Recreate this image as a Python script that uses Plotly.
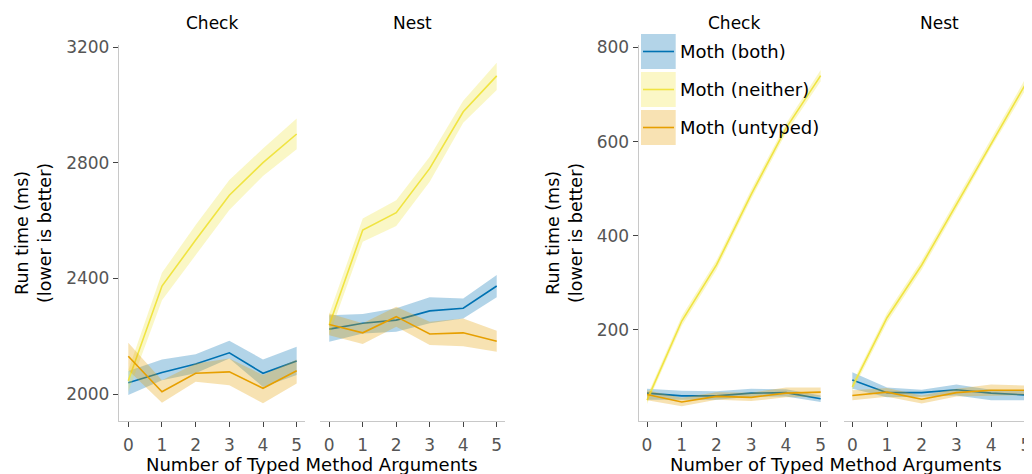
import plotly.graph_objects as go

x_vals = [0, 1, 2, 3, 4, 5]
series_names = ["Moth (both)", "Moth (neither)", "Moth (untyped)"]

# Left chart -- Check panel
left_check_both = [2039, 2075, 2104, 2143, 2072, 2115]
left_check_both_hi = [2080, 2120, 2138, 2185, 2120, 2164]
left_check_both_lo = [1997, 2048, 2072, 2123, 2025, 2066]
left_check_neither = [2046, 2374, 2533, 2688, 2801, 2900]
left_check_neither_hi = [2083, 2420, 2585, 2741, 2850, 2954]
left_check_neither_lo = [2008, 2325, 2481, 2637, 2755, 2847]
left_check_untyped = [2131, 2008, 2072, 2077, 2020, 2081]
left_check_untyped_hi = [2178, 2048, 2106, 2123, 2066, 2120]
left_check_untyped_lo = [2083, 1970, 2043, 2031, 1968, 2037]

# Left chart -- Nest panel
left_nest_both = [2225, 2245, 2256, 2288, 2297, 2374]
left_nest_both_hi = [2273, 2277, 2297, 2335, 2331, 2412]
left_nest_both_lo = [2181, 2210, 2216, 2245, 2262, 2335]
left_nest_neither = [2239, 2568, 2628, 2781, 2977, 3101]
left_nest_neither_hi = [2277, 2608, 2671, 2821, 3015, 3147]
left_nest_neither_lo = [2204, 2527, 2582, 2735, 2939, 3052]
left_nest_untyped = [2241, 2212, 2268, 2208, 2212, 2183]
left_nest_untyped_hi = [2279, 2245, 2302, 2250, 2262, 2219]
left_nest_untyped_lo = [2204, 2173, 2233, 2170, 2166, 2147]

# Right chart -- Check panel
right_check_both = [66, 60, 60, 66, 67, 54]
right_check_both_hi = [75, 71, 70, 75, 74, 61]
right_check_both_lo = [52, 52, 52, 58, 59, 47]
right_check_neither = [51, 219, 338, 488, 628, 740]
right_check_neither_hi = [60, 229, 348, 498, 638, 752]
right_check_neither_lo = [43, 209, 328, 478, 618, 728]
right_check_untyped = [63, 47, 59, 57, 66, 68]
right_check_untyped_hi = [72, 56, 68, 67, 78, 78]
right_check_untyped_lo = [51, 38, 52, 49, 57, 58]

# Right chart -- Nest panel
right_nest_both = [94, 67, 67, 73, 66, 62]
right_nest_both_hi = [110, 78, 73, 84, 73, 72]
right_nest_both_lo = [75, 57, 58, 61, 51, 51]
right_nest_neither = [79, 226, 338, 467, 597, 723]
right_nest_neither_hi = [88, 236, 348, 477, 607, 735]
right_nest_neither_lo = [70, 216, 328, 457, 587, 711]
right_nest_untyped = [61, 68, 53, 67, 72, 72]
right_nest_untyped_hi = [72, 77, 61, 75, 84, 82]
right_nest_untyped_lo = [51, 58, 44, 59, 61, 62]

panel_titles = ["Check", "Nest", "Check", "Nest"]
left_yticks = [2000, 2400, 2800, 3200]
right_yticks = [200, 400, 600, 800]
x_title = "Number of Typed Method Arguments"
y_title = "Run time (ms)<br>(lower is better)"

line_colors = ["#0072B2", "#F0E442", "#E69F00"]
band_colors = ["rgba(0,114,178,0.3)", "rgba(240,228,66,0.3)", "rgba(230,159,0,0.3)"]
patch_colors = ["#b3d4e8", "#fbf7c6", "#f8e2b3"]

FONT = "DejaVu Sans"
W, H = 1032, 474
OFF = 8  # page body margin in the browser

panels = [
    (1, [(left_check_both, left_check_both_hi, left_check_both_lo),
         (left_check_neither, left_check_neither_hi, left_check_neither_lo),
         (left_check_untyped, left_check_untyped_hi, left_check_untyped_lo)]),
    (2, [(left_nest_both, left_nest_both_hi, left_nest_both_lo),
         (left_nest_neither, left_nest_neither_hi, left_nest_neither_lo),
         (left_nest_untyped, left_nest_untyped_hi, left_nest_untyped_lo)]),
    (3, [(right_check_both, right_check_both_hi, right_check_both_lo),
         (right_check_neither, right_check_neither_hi, right_check_neither_lo),
         (right_check_untyped, right_check_untyped_hi, right_check_untyped_lo)]),
    (4, [(right_nest_both, right_nest_both_hi, right_nest_both_lo),
         (right_nest_neither, right_nest_neither_hi, right_nest_neither_lo),
         (right_nest_untyped, right_nest_untyped_hi, right_nest_untyped_lo)]),
]

fig = go.Figure()
for idx, groups in panels:
    xa = "x" if idx == 1 else f"x{idx}"
    ya = "y" if idx == 1 else f"y{idx}"
    for s, (mid, hi, lo) in enumerate(groups):
        fig.add_trace(go.Scatter(
            x=x_vals + x_vals[::-1], y=hi + lo[::-1], fill="toself",
            fillcolor=band_colors[s], line=dict(width=0), mode="lines",
            hoverinfo="skip", showlegend=False, xaxis=xa, yaxis=ya))
        fig.add_trace(go.Scatter(
            x=x_vals, y=mid, mode="lines", name=series_names[s],
            line=dict(color=line_colors[s], width=1.6),
            showlegend=False, xaxis=xa, yaxis=ya))

def px_x(p):
    return (p - OFF) / W

def px_y(p):
    return (H - (p - OFF)) / H

ydom = [px_y(420.7), px_y(45)]
xdoms = [
    [px_x(119), px_x(305)],
    [px_x(320), px_x(505)],
    [px_x(638.7), px_x(828.3)],
    [px_x(844), 1.0],
]
right_end = (W + OFF - 852.3) / 34.7
xranges = [[-0.276, 5.247], [-0.276, 5.247], [-0.24, 5.22], [-0.24, right_end]]
yranges = [[1908, 3208], [1908, 3208], [7.4, 805], [7.4, 805]]

tickfont = dict(family=FONT, size=17, color="#555555")
layout = dict(
    width=W, height=H, autosize=False,
    margin=dict(l=0, r=0, t=0, b=0, pad=0, autoexpand=False),
    paper_bgcolor="white", plot_bgcolor="white",
    font=dict(family=FONT, color="black"),
    showlegend=False,
)
for i in range(4):
    n = i + 1
    xk = "xaxis" if n == 1 else f"xaxis{n}"
    yk = "yaxis" if n == 1 else f"yaxis{n}"
    layout[xk] = dict(
        domain=xdoms[i], range=xranges[i], anchor="y" if n == 1 else f"y{n}",
        tickvals=x_vals, ticktext=[str(v) for v in x_vals], automargin=False,
        showgrid=False, zeroline=False, showline=True, linecolor="#c8c8c8",
        linewidth=1.3, ticks="outside", ticklen=5, tickwidth=1.3,
        tickcolor="#444444", tickfont=tickfont, ticklabelstandoff=4,
    )
    left_side = n in (1, 3)
    layout[yk] = dict(
        domain=ydom, range=yranges[i], anchor="x" if n == 1 else f"x{n}",
        tickvals=left_yticks if n <= 2 else right_yticks, automargin=False,
        showgrid=False, zeroline=False, showline=left_side,
        linecolor="#c8c8c8", linewidth=1.3,
        ticks="outside" if left_side else "", ticklen=5, tickwidth=1.3,
        tickcolor="#444444", tickfont=tickfont, showticklabels=left_side,
    )
fig.update_layout(**layout)

# Panel titles
title_x = [212, 412.5, 733.5, 939]
for tx, t in zip(title_x, panel_titles):
    fig.add_annotation(x=px_x(tx), y=px_y(23.3), xref="paper", yref="paper",
                       text=t, showarrow=False, xanchor="center", yanchor="middle",
                       font=dict(family=FONT, size=17, color="black"))

# X axis titles
for cx in [312, 836]:
    fig.add_annotation(x=px_x(cx), y=px_y(464), xref="paper", yref="paper",
                       text=x_title, showarrow=False, xanchor="center", yanchor="middle",
                       font=dict(family=FONT, size=18, color="black"))

# Y axis titles
for cx in [33, 564]:
    fig.add_annotation(x=px_x(cx), y=px_y(233), xref="paper", yref="paper",
                       text=y_title, showarrow=False, xanchor="center", yanchor="middle",
                       textangle=-90, align="center",
                       font=dict(family=FONT, size=17.5, color="black"))

# Legend (manual, in right Check panel)
leg_tops = [34, 72, 110]
for s in range(3):
    t = leg_tops[s]
    fig.add_shape(type="rect", xref="paper", yref="paper",
                  x0=px_x(641), x1=px_x(675.7), y0=px_y(t + 35), y1=px_y(t),
                  fillcolor=patch_colors[s], line=dict(width=0), layer="above")
    fig.add_shape(type="line", xref="paper", yref="paper",
                  x0=px_x(643), x1=px_x(674), y0=px_y(t + 17.5), y1=px_y(t + 17.5),
                  line=dict(color=line_colors[s], width=1.6), layer="above")
    fig.add_annotation(x=px_x(678), y=px_y(t + 17.5), xref="paper", yref="paper",
                       text=series_names[s], showarrow=False, xanchor="left",
                       yanchor="middle", font=dict(family=FONT, size=18, color="black"))

fig.write_html("out.html")
